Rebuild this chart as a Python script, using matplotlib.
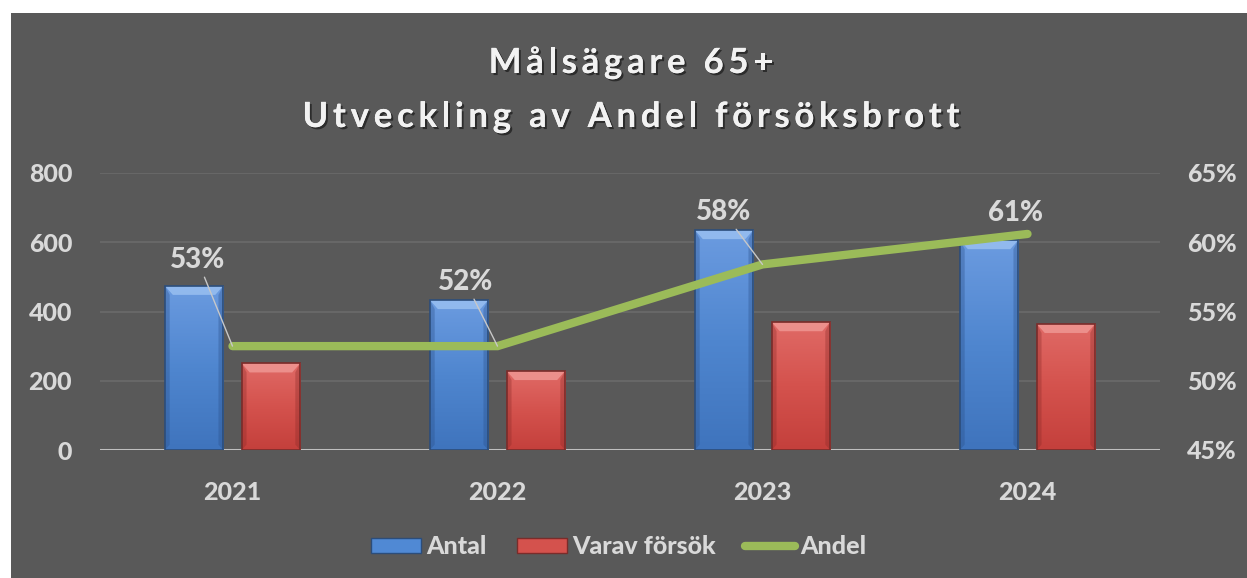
import matplotlib
matplotlib.use("Agg")
import matplotlib.pyplot as plt
import numpy as np
from matplotlib.patches import Polygon, Rectangle
from matplotlib.lines import Line2D
import matplotlib.patheffects as pe
from matplotlib.colors import LinearSegmentedColormap
from matplotlib.font_manager import FontProperties, findfont

years = ["2021", "2022", "2023", "2024"]
antal = [474, 433, 635, 606]
varav = [250, 228, 369, 364]
andel = [52.5, 52.5, 58.4, 60.6]
andel_labels = ["53%", "52%", "58%", "61%"]
left_ticks = [0, 200, 400, 600, 800]
right_ticks = [45, 50, 55, 60, 65]
title_lines = ["Målsägare 65+", "Utveckling av Andel försöksbrott"]

BG = "#595959"
TXT = "#d9d9d9"
FONT = "Lato"
plt.rcParams["font.family"] = [FONT, "DejaVu Sans"]
plt.rcParams["font.weight"] = "bold"

BOLD_FILE = findfont(FontProperties(family=FONT, weight="bold"))
HEAVY_FILE = findfont(FontProperties(family=FONT, weight=900))


def fp(size, heavy=False):
    return FontProperties(fname=HEAVY_FILE if heavy else BOLD_FILE, size=size)


W, H = 1247, 578
fig = plt.figure(figsize=(W / 100, H / 100), dpi=100)
fig.patch.set_facecolor("white")
fig.patches.append(Rectangle((11 / W, 0), 1 - 11 / W, 1 - 13 / H, transform=fig.transFigure,
                             facecolor=BG, edgecolor="none", zorder=-10))

ax = fig.add_axes([100 / W, 1 - 450 / H, 1060 / W, 277 / H])
ax.set_facecolor("none")
ax2 = ax.twinx()
ax2.set_facecolor("none")

x = np.arange(len(years))
w = 0.22
off = 0.145
ax.set_xlim(-0.5, len(years) - 0.5)
ax.set_ylim(0, 800)
ax2.set_ylim(45, 65)

for a in (ax, ax2):
    for s in a.spines.values():
        s.set_visible(False)
    a.tick_params(length=0, labelcolor=TXT)

TICK_FP = fp(18, heavy=True)
ax.set_yticks(left_ticks)
ax.set_yticklabels([str(t) for t in left_ticks], fontproperties=TICK_FP)
ax2.set_yticks(right_ticks)
ax2.set_yticklabels([f"{t}%" for t in right_ticks], fontproperties=TICK_FP)
ax.set_xticks(x)
ax.set_xticklabels(years, fontproperties=TICK_FP)
ax.tick_params(axis="y", pad=20)
ax2.tick_params(axis="y", pad=19.5)
ax.tick_params(axis="x", pad=22)

ax.grid(axis="y", color="#6b6b6b", linewidth=1.2, zorder=0)
ax.set_axisbelow(True)
ax.axhline(0, color="#bfbfbf", linewidth=2.2, zorder=1)

blue_cmap = LinearSegmentedColormap.from_list("b", ["#6b9be0", "#4f86cf", "#3f74bd"])
red_cmap = LinearSegmentedColormap.from_list("r", ["#e06a66", "#d4524d", "#c4403c"])
bevel_h = 800 * 9 / 277
bevel_w = 0.03


def draw_bars(xs, vals, cmap, edge, light, dark):
    bars = ax.bar(xs, vals, w, color="none", edgecolor=edge, linewidth=1.2, zorder=3)
    grad = np.linspace(0, 1, 100).reshape(-1, 1)
    for b in bars:
        x0, y0, bw, bh = b.get_x(), b.get_y(), b.get_width(), b.get_height()
        im = ax.imshow(grad, cmap=cmap, aspect="auto", extent=(x0, x0 + bw, y0, y0 + bh),
                       origin="upper", zorder=2)
        im.set_clip_path(b)
        top = y0 + bh
        ax.add_patch(Polygon([(x0, top), (x0 + bw, top), (x0 + bw - bevel_w, top - bevel_h),
                              (x0 + bevel_w, top - bevel_h)], closed=True,
                             facecolor=light, edgecolor="none", alpha=0.8, zorder=2.5))
        ax.add_patch(Polygon([(x0, y0), (x0 + bevel_w * 0.6, y0 + bevel_h * 0.6),
                              (x0 + bevel_w * 0.6, top - bevel_h), (x0, top)], closed=True,
                             facecolor=dark, edgecolor="none", alpha=0.35, zorder=2.5))
        ax.add_patch(Polygon([(x0 + bw, y0), (x0 + bw - bevel_w * 0.6, y0 + bevel_h * 0.6),
                              (x0 + bw - bevel_w * 0.6, top - bevel_h), (x0 + bw, top)], closed=True,
                             facecolor=dark, edgecolor="none", alpha=0.35, zorder=2.5))
    ax.set_xlim(-0.5, len(years) - 0.5)
    ax.set_ylim(0, 800)
    return bars


draw_bars(x - off, antal, blue_cmap, "#2c4d7a", "#9cc2f2", "#2a4f88")
draw_bars(x + off, varav, red_cmap, "#7a2c2a", "#f09a96", "#8a2a28")

ax2.plot(x, andel, color="#9bbb59", linewidth=6, solid_capstyle="round", solid_joinstyle="miter",
         zorder=5)

label_offsets = [(-35, 86), (-32, 64), (-39, 52), (-12, 21)]
leaders = [True, True, True, False]
for xi, yi, lab, o, ld in zip(x, andel, andel_labels, label_offsets, leaders):
    ax2.annotate(lab, xy=(xi, yi), xytext=o, textcoords="offset pixels",
                 ha="center", va="center", fontproperties=fp(20, heavy=True),
                 color=TXT, zorder=6,
                 arrowprops=dict(arrowstyle="-", color="#c8c8c8", lw=1, shrinkA=1, shrinkB=0)
                 if ld else None)

# Title with letter spacing
renderer = fig.canvas.get_renderer()
tprop = fp(25)


def adv(s):
    wm = renderer.get_text_width_height_descent("M", tprop, ismath=False)[0]
    ws = renderer.get_text_width_height_descent(s + "M", tprop, ismath=False)[0]
    return ws - wm


line2 = title_lines[1]
nat2 = renderer.get_text_width_height_descent(line2, tprop, ismath=False)[0]
spacing = (657 - nat2) / (len(line2) - 1)
shadow = [pe.withSimplePatchShadow(offset=(1.5, -1.5), shadow_rgbFace="black", alpha=0.5),
          pe.Normal()]
center_x = 631
for line, base in zip(title_lines, [73, 127]):
    nat = renderer.get_text_width_height_descent(line, tprop, ismath=False)[0]
    total = nat + spacing * (len(line) - 1)
    x0 = center_x - total / 2
    for i, ch in enumerate(line):
        if ch == " ":
            continue
        px = x0 + adv(line[:i]) + spacing * i
        fig.text(px / W, 1 - base / H, ch, ha="left", va="baseline", fontproperties=tprop,
                 color="#f2f2f2", path_effects=shadow)

handles = [Rectangle((0, 0), 1, 1, facecolor="#5089d4", edgecolor="#2c4d7a"),
           Rectangle((0, 0), 1, 1, facecolor="#d4524d", edgecolor="#7a2c2a"),
           Line2D([], [], color="#9bbb59", linewidth=6, solid_capstyle="round")]
leg = fig.legend(handles, ["Antal", "Varav försök", "Andel"], loc="center",
                 bbox_to_anchor=(619 / W, 1 - 547 / H), ncol=3, frameon=False,
                 handlelength=2.0, handleheight=0.55, handletextpad=0.2, columnspacing=1.2,
                 prop=fp(18, heavy=True))
for t in leg.get_texts():
    t.set_color(TXT)

fig.savefig("out.png", dpi=100, facecolor=fig.get_facecolor())
